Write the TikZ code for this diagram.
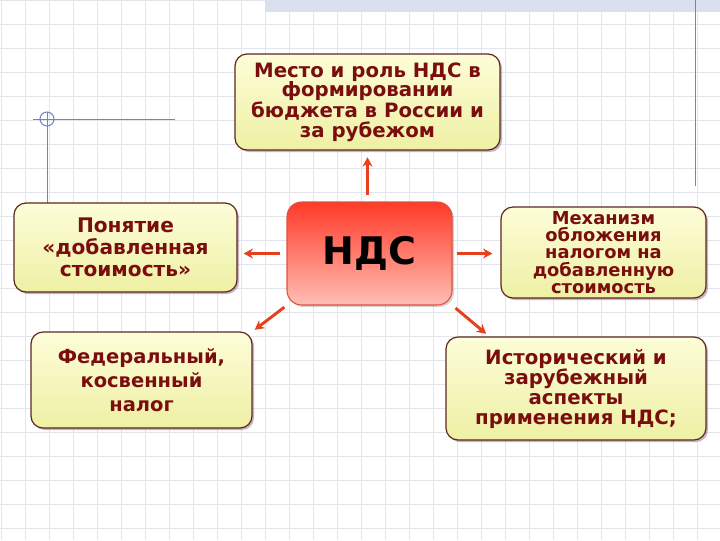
\documentclass[tikz,border=0pt]{standalone}
\usepackage{fontspec}
\setmainfont{DejaVu Sans}
\usepackage{tikz}
\usetikzlibrary{arrows.meta,shadows}

\definecolor{gridgrey}{RGB}{228,228,236}
\definecolor{textred}{RGB}{122,14,14}
\definecolor{boxline}{RGB}{92,40,30}
\definecolor{boxtop}{RGB}{253,253,216}
\definecolor{boxbot}{RGB}{238,240,164}
\definecolor{hubtop}{RGB}{255,58,40}
\definecolor{hubbot}{RGB}{255,190,180}
\definecolor{hubline}{RGB}{224,80,64}
\definecolor{linkred}{RGB}{230,64,30}
\definecolor{rulerblue}{RGB}{112,132,190}
\definecolor{bandblue}{RGB}{218,224,238}

\tikzset{
  gridline/.style={draw=gridgrey, line width=0.6pt},
  ruler/.style={draw=rulerblue, line width=0.75pt},
  topic/.style={draw=boxline, line width=0.9pt, rounded corners=9pt,
    top color=boxtop, bottom color=boxbot, text=textred, align=center,
    inner sep=2pt, font=\fontsize{14.8}{14.6}\selectfont\bfseries,
    drop shadow={shadow xshift=1.5pt, shadow yshift=-1.5pt, fill=violet!30!gray, opacity=.45}},
  hub/.style={draw=hubline, line width=0.8pt, rounded corners=11pt,
    top color=hubtop, bottom color=hubbot, text=black,
    font=\fontsize{28.5}{30}\selectfont\bfseries,
    drop shadow={shadow xshift=1.5pt, shadow yshift=-1.5pt, fill=gray, opacity=.35}},
  link/.style={draw=linkred, line width=2.2pt, -{Stealth[length=7pt,width=7.5pt]}},
}

\begin{document}
\begin{tikzpicture}[x=0.75pt,y=0.75pt,yscale=-1,xscale=1]
\useasboundingbox (0,0) rectangle (720,540);

% background grid
\fill[white] (0,0) rectangle (720,540);
\foreach \gx in {1,25,...,721} \draw[gridline] (\gx,0) -- (\gx,540);
\foreach \gy in {0,24,...,540} \draw[gridline] (0,\gy) -- (720,\gy);
\fill[bandblue] (265,0) rectangle (720,12);

% rulers
\draw[ruler] (695,0) -- (695,186);
\draw[ruler] (33,119) -- (175,119);
\draw[ruler] (47,112) -- (47,203);
\draw[ruler] (47,119) circle [radius=7];

% Text Node
\node[topic, minimum width=198.75pt, minimum height=72pt] (mesto) at (367.5,102)
  {Место и роль НДС в\\формировании\\бюджета в России и\\за рубежом};
% Text Node
\node[topic, minimum width=167.25pt, minimum height=66.75pt,
  font=\fontsize{15.1}{16.5}\selectfont\bfseries] (ponyatie) at (125.5,247.5)
  {Понятие\\«добавленная\\стоимость»};
% Text Node
\node[topic, minimum width=165.75pt, minimum height=72pt,
  font=\fontsize{14.6}{18}\selectfont\bfseries] (fed) at (141.5,380)
  {Федеральный,\\косвенный\\налог};
% Text Node
\node[topic, minimum width=153.75pt, minimum height=68.25pt,
  font=\fontsize{13.4}{12.9}\selectfont\bfseries] (mekh) at (603.5,252.5)
  {Механизм\\обложения\\налогом на\\добавленную\\стоимость};
% Text Node
\node[topic, minimum width=195pt, minimum height=77.25pt,
  font=\fontsize{14.8}{15}\selectfont\bfseries] (istor) at (576,388.5)
  {Исторический и\\зарубежный\\аспекты\\применения НДС;};
% Text Node
\node[hub, minimum width=123.75pt, minimum height=77.25pt] (nds) at (369.5,253.5) {НДС};

%Straight Lines
\draw[link, shorten <=4.5pt, shorten >=5pt] (nds.north -| mesto.south) -- (mesto.south);
\draw[link, shorten <=4.5pt, shorten >=4.5pt] (nds.west) -- (nds.west -| ponyatie.east);
\draw[link, shorten <=3pt, shorten >=6pt] (nds.east) -- (nds.east -| mekh.west);
\draw[link, shorten <=2pt, shorten >=2pt] (nds.south west) -- (fed.north east);
\draw[link, shorten <=3pt, shorten >=3pt] (nds.south east) -- (istor.149);

\end{tikzpicture}
\end{document}
